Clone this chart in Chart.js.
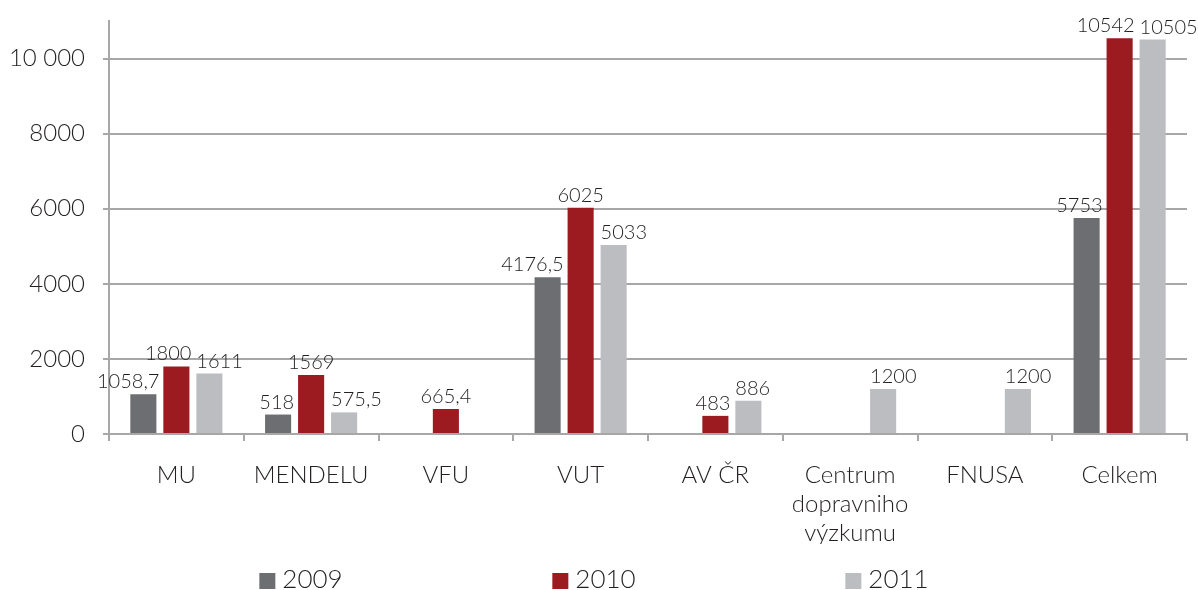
<!DOCTYPE html>
<html>
<head>
<meta charset="utf-8">
<script src="https://cdn.jsdelivr.net/npm/chart.js@4/dist/chart.umd.min.js"></script>
<style>
  html, body { margin: 0; padding: 0; background: #fff; }
  #wrap { width: 1198px; height: 590px; }
</style>
</head>
<body>
<div id="wrap"><canvas id="grantChart" width="1198" height="590"></canvas></div>
<script>
var categories = ["MU", "MENDELU", "VFU", "VUT", "AV ČR", ["Centrum", "dopravniho", "výzkumu"], "FNUSA", "Celkem"];
var years = ["2009", "2010", "2011"];
var val2009 = [1058.7, 518, null, 4176.5, null, null, null, 5753];
var val2010 = [1800, 1569, 665.4, 6025, 483, null, null, 10542];
var val2011 = [1611, 575.5, null, 5033, 886, 1200, 1200, 10505];
var yTicks = [0, 2000, 4000, 6000, 8000, 10000];

var colors = ["#6d6e71", "#9b1b20", "#bcbdc0"];
var textColor = "#231f20";
var gridColor = "#a7a7a7";
var fontName = "Lato, 'Open Sans', sans-serif";

function fmt(v) {
  return String(v).replace(".", ",");
}

// value labels above the bars, nudged sideways when they would collide
var barLabels = {
  id: "barLabels",
  afterDatasetsDraw: function(chart) {
    var ctx = chart.ctx;
    ctx.save();
    ctx.font = "300 20px " + fontName;
    ctx.fillStyle = textColor;
    ctx.textBaseline = "alphabetic";
    chart.data.datasets.forEach(function(ds, di) {
      var meta = chart.getDatasetMeta(di);
      meta.data.forEach(function(bar, i) {
        var v = ds.data[i];
        if (v === null || v === undefined) return;
        var txt = fmt(v);
        var w = ctx.measureText(txt).width;
        var left = bar.x - bar.width / 2, right = bar.x + bar.width / 2;
        var wide = w > bar.width + 8;
        var x = bar.x;
        ctx.textAlign = "center";
        if (di === 0 && wide) {
          ctx.textAlign = "right"; x = right + 3;
        } else if (di === 2 && wide) {
          ctx.textAlign = "left"; x = left;
        } else if (di === 1 && wide) {
          var other = chart.data.datasets[2].data[i];
          if (other !== null) {
            var ob = chart.getDatasetMeta(2).data[i];
            if (Math.abs(ob.y - bar.y) < 22) { ctx.textAlign = "right"; x = right + 2; }
          }
        }
        ctx.fillText(txt, x, bar.y - 6);
      });
    });
    ctx.restore();
  }
};

// legend spread across the bottom
var bottomLegend = {
  id: "bottomLegend",
  afterDraw: function(chart) {
    var ctx = chart.ctx;
    ctx.save();
    ctx.font = "300 26px " + fontName;
    ctx.textBaseline = "middle";
    ctx.textAlign = "left";
    var step = 293, box = 16, cy = 580;
    var cx = chart.width / 2 - 5;
    years.forEach(function(y, i) {
      var tw = ctx.measureText(y).width;
      var itemW = box + 7 + tw;
      var x = cx + (i - 1) * step - itemW / 2;
      ctx.fillStyle = colors[i];
      ctx.fillRect(x, cy - box / 2 + 1, box, box);
      ctx.fillStyle = textColor;
      ctx.fillText(y, x + box + 7, cy);
    });
    ctx.restore();
  }
};

var ctx = document.getElementById("grantChart");
var grantChart = new Chart(ctx, {
  type: "bar",
  data: {
    labels: categories,
    datasets: [
      { label: years[0], data: val2009, backgroundColor: colors[0] },
      { label: years[1], data: val2010, backgroundColor: colors[1] },
      { label: years[2], data: val2011, backgroundColor: colors[2] }
    ]
  },
  options: {
    responsive: false,
    animation: false,
    devicePixelRatio: 1,
    categoryPercentage: 0.735,
    barPercentage: 0.79,
    layout: { padding: { top: 21, right: 11, bottom: 46, left: 0 } },
    plugins: {
      legend: { display: false },
      tooltip: { enabled: false }
    },
    scales: {
      x: {
        grid: { display: true, drawOnChartArea: false, color: gridColor, tickLength: 7, lineWidth: 2 },
        border: { color: gridColor, width: 2 },
        ticks: { color: textColor, font: { family: fontName, size: 24, weight: 300 }, padding: 20, maxRotation: 0, autoSkip: false },
        afterFit: function(s) { s.height = 110; s.paddingLeft = 0; s.paddingRight = 0; }
      },
      y: {
        min: 0,
        max: 11000,
        grid: { color: gridColor, tickLength: 6, lineWidth: 2 },
        border: { color: gridColor, width: 2 },
        ticks: {
          color: textColor,
          font: { family: fontName, size: 24, weight: 300 },
          padding: 18,
          callback: function(v) { return v >= 10000 ? String(v).replace(/(\d+)(\d{3})$/, "$1 $2") : String(v); }
        },
        afterBuildTicks: function(s) {
          s.ticks = yTicks.map(function(v) { return { value: v }; });
        },
        afterFit: function(s) { s.width = 109; s.paddingTop = 0; s.paddingBottom = 0; }
      }
    }
  },
  plugins: [barLabels, bottomLegend]
});
</script>
</body>
</html>
